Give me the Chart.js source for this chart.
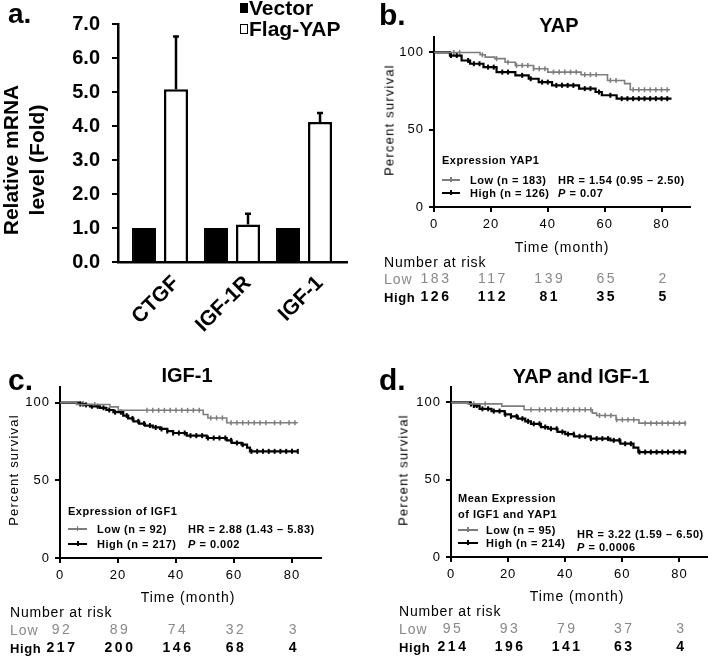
<!DOCTYPE html>
<html>
<head>
<meta charset="utf-8">
<script src="https://cdn.jsdelivr.net/npm/chart.js@4.4.0/dist/chart.umd.min.js"></script>
<style>
  html, body { margin: 0; padding: 0; background: #fff; }
  body { width: 708px; height: 656px; position: relative; overflow: hidden; font-family: "Liberation Sans", Arial, sans-serif; }
  canvas { position: absolute; }
  .t { position: absolute; white-space: nowrap; line-height: 1; color: #000; }
  .sw { position: absolute; }
</style>
</head>
<body>
<canvas id="barA" width="354" height="360" style="left:0;top:0"></canvas>
<canvas id="kmB" width="354" height="310" style="left:354px;top:0"></canvas>
<canvas id="kmC" width="354" height="316" style="left:0;top:340px"></canvas>
<canvas id="kmD" width="360" height="316" style="left:354px;top:340px"></canvas>
<script>
const FONT = '"Liberation Sans", Arial, sans-serif';
const GRAY = '#7d7d7d';

// a. qPCR fold change
const genes = ["CTGF", "IGF-1R", "IGF-1"];
const groups = ["Vector", "Flag-YAP"];
const vectorFold = [1, 1, 1];
const yapFold = [5.08, 1.1, 4.12];
const yapErr = [1.55, 0.32, 0.26];

// survival axes / numbers at risk columns
const months = [0, 20, 40, 60, 80];
const survTicks = [0, 50, 100];

// b. YAP
const yapLowT = [0, 16.2, 18, 21.4, 25, 28.6, 35, 40, 51.7, 61, 67, 69, 83];
const yapLowS = [100, 98.5, 97, 96, 93.7, 91.6, 89.5, 87.3, 85.6, 81.9, 79.8, 75.9, 75.9];
const yapHighT = [0, 5.6, 9.7, 12.7, 17.4, 22, 28.6, 33.3, 36.8, 41.5, 51, 56.8, 59, 64.2, 83.5];
const yapHighS = [100, 98, 94.8, 92.7, 90.5, 87.3, 85.2, 83, 80.8, 78.7, 76.6, 74.4, 72.3, 70.1, 70.1];
const yapLowCens = [7, 9, 17, 22, 26, 29, 31, 33, 35, 37, 39, 42, 44, 46, 48, 50, 53, 55, 57, 62, 64, 70, 72, 74, 76, 78, 80, 82];
const yapHighCens = [6, 8, 12, 14, 16, 19, 21, 24, 26, 31, 34, 38, 40, 43, 45, 47, 49, 53, 55, 58, 62, 66, 68, 70, 72, 74, 76, 78, 80, 82];
const yapRiskLow = [183, 117, 139, 65, 2];
const yapRiskHigh = [126, 112, 81, 35, 5];

// c. IGF-1
const igfLowT = [0, 5.7, 17.2, 20.1, 49.4, 51, 57.5, 82];
const igfLowS = [100, 98.7, 97.2, 95, 92.3, 90.1, 87, 87];
const igfHighT = [0, 7, 8.5, 10.3, 13.8, 16, 18.4, 21.8, 23.5, 25.3, 27.3, 29.3, 32, 34.5, 37, 39, 43.7, 50.6, 57.5, 59.2, 62.6, 64.5, 65.5, 82];
const igfHighS = [100, 99, 98.5, 97.6, 96.6, 95.2, 93.8, 91.6, 89.8, 87.9, 86.5, 85.2, 84, 83, 81.6, 80.4, 78.7, 77.2, 75.7, 74, 72.9, 71, 68.6, 68.6];
const igfLowCens = [8, 12, 30, 32, 34, 36, 38, 40, 42, 44, 46, 48, 52, 54, 56, 59, 61, 63, 65, 67, 69, 71, 74, 76, 79, 81];
const igfHighCens = [7, 8, 9, 11, 13, 15, 17, 19, 21, 23, 25, 27, 29, 31, 33, 35, 37, 39, 41, 43, 45, 47, 49, 51, 53, 55, 57, 59, 61, 63, 66, 68, 70, 72, 74, 76, 78, 80, 82];
const igfRiskLow = [92, 89, 74, 32, 3];
const igfRiskHigh = [217, 200, 146, 68, 4];

// d. YAP and IGF-1
const bothLowT = [0, 6, 17.8, 25.6, 49.5, 51, 57.8, 65.8, 82.4];
const bothLowS = [100, 99.1, 97.6, 95.3, 93.1, 91.6, 88.8, 86.6, 86.6];
const bothHighT = [0, 6.5, 8, 10, 14.2, 18.8, 21, 23.4, 26, 28, 31.5, 34, 37.3, 40, 43.1, 48.9, 55.8, 59.3, 63.9, 65.6, 82.4];
const bothHighS = [100, 99, 98, 95.9, 94.4, 92.3, 91, 89.5, 87.8, 86.2, 84.1, 83, 80.9, 79.5, 78.1, 76.6, 75.5, 73.3, 70.8, 67.9, 67.9];
const bothLowCens = [8, 12, 28, 31, 33, 35, 37, 39, 41, 43, 45, 47, 49, 52, 54, 56, 58, 60, 62, 64, 68, 70, 72, 74, 76, 78, 80, 82];
const bothHighCens = [7, 8, 9, 11, 13, 15, 17, 19, 21, 23, 25, 27, 29, 31, 33, 35, 37, 39, 41, 43, 45, 47, 49, 51, 53, 55, 57, 59, 61, 63, 66, 68, 70, 72, 74, 76, 78, 80, 82];
const bothRiskLow = [95, 93, 79, 37, 3];
const bothRiskHigh = [214, 196, 141, 63, 4];

// ---- text helpers
function txt(html, x, y, css, mode) {
  const d = document.createElement("div");
  d.className = "t";
  d.innerHTML = html;
  d.style.cssText += css;
  d.style.left = x + "px";
  d.style.top = y + "px";
  if (mode === "c") d.style.transform = "translate(-50%, -50%)";
  else if (mode === "r") d.style.transform = "translate(-50%, -50%) rotate(-90deg)";
  else d.style.transform = "translate(0, -50%)";
  document.body.appendChild(d);
  return d;
}
function swatch(x, y, w, color, width) {
  const d = document.createElement("div");
  d.className = "sw";
  d.style.cssText = `left:${x}px;top:${y - width / 2}px;width:${w}px;height:${width}px;background:${color}`;
  document.body.appendChild(d);
  const tk = document.createElement("div");
  tk.className = "sw";
  tk.style.cssText = `left:${x + w / 2 - 1}px;top:${y - 3}px;width:${width}px;height:5px;background:${color}`;
  document.body.appendChild(tk);
}

// ---- panel a
const errorBars = {
  id: "errorBars",
  afterDatasetsDraw(chart) {
    const ctx = chart.ctx, ys = chart.scales.y;
    const meta = chart.getDatasetMeta(1);
    ctx.save();
    ctx.strokeStyle = "#000";
    ctx.lineWidth = 2.5;
    meta.data.forEach((bar, i) => {
      const top = ys.getPixelForValue(yapFold[i] + yapErr[i]);
      ctx.beginPath();
      ctx.moveTo(bar.x, bar.y);
      ctx.lineTo(bar.x, top);
      ctx.moveTo(bar.x - 3, top);
      ctx.lineTo(bar.x + 3, top);
      ctx.stroke();
    });
    ctx.restore();
  }
};

const geneIdx = genes.map((g, i) => i);

new Chart(document.getElementById("barA"), {
  type: "bar",
  data: {
    datasets: [
      { label: groups[0], data: geneIdx.map(i => ({ x: i, y: vectorFold[i] })),
        backgroundColor: "#000", borderColor: "#000", borderWidth: 2,
        categoryPercentage: 0.89, barPercentage: 0.75 },
      { label: groups[1], data: geneIdx.map(i => ({ x: i, y: yapFold[i] })),
        backgroundColor: "#fff", borderColor: "#000", borderWidth: 2.5,
        categoryPercentage: 0.89, barPercentage: 0.75 }
    ]
  },
  options: {
    responsive: false, animation: false, devicePixelRatio: 1, events: [],
    layout: { padding: { left: 0, top: 20, right: 7, bottom: 13 } },
    plugins: { legend: { display: false }, tooltip: { enabled: false } },
    scales: {
      x: {
        type: "linear", offset: false, min: -0.583, max: 2.597,
        afterBuildTicks: s => { s.ticks = geneIdx.map(v => ({ value: v })); },
        afterFit: s => { s.height = 85; },
        grid: { display: false },
        border: { color: "#000", width: 2.5 },
        ticks: { color: "#000", font: { family: FONT, size: 21, weight: "bold" }, minRotation: 45, maxRotation: 45,
                 autoSkip: false, labelOffset: 16, padding: 1, callback: v => genes[v] }
      },
      y: {
        min: 0, max: 7,
        afterFit: s => { s.width = 118; },
        grid: { drawOnChartArea: false, color: "#000", lineWidth: 2, tickLength: 6 },
        border: { color: "#000", width: 2.5 },
        ticks: { stepSize: 1, color: "#000", font: { family: FONT, size: 20, weight: "bold" }, padding: 12,
                 callback: v => v.toFixed(1) }
      }
    }
  },
  plugins: [errorBars]
});

txt("a.", 8, 14, `font: bold 28px ${FONT}`, "l");
txt("Relative mRNA<br>level (Fold)", 24, 160, `font: bold 21px ${FONT}; line-height: 26px; text-align: center`, "r");
groups.forEach((g, i) => {
  const y = [8, 29][i];
  const b = document.createElement("div");
  b.className = "sw";
  b.style.cssText = `left:240px;top:${y - 5}px;width:8px;height:10px;box-sizing:border-box;border:1.5px solid #000;background:${i ? "#fff" : "#000"}`;
  document.body.appendChild(b);
  txt(g, 249, y, `font: bold 21px ${FONT}`, "l");
});

// ---- survival panels
function stepAt(T, S, t) {
  let v = S[0];
  for (let i = 0; i < T.length; i++) if (T[i] <= t) v = S[i];
  return v;
}

const riskPlugin = {
  id: "risk",
  beforeDraw(chart) { chart.ctx.letterSpacing = "1px"; },
  afterDraw(chart, args, opts) {
    const ctx = chart.ctx, xs = chart.scales.x;
    ctx.save();
    ctx.letterSpacing = "2.5px";
    ctx.textAlign = "center";
    ctx.textBaseline = "middle";
    months.forEach((m, i) => {
      const x = xs.getPixelForValue(m) + 2;
      ctx.font = `14px ${FONT}`;
      ctx.fillStyle = "#888";
      ctx.fillText(String(opts.low[i]), x, opts.yLow);
      ctx.font = `bold 14px ${FONT}`;
      ctx.fillStyle = "#000";
      ctx.fillText(String(opts.high[i]), x, opts.yHigh);
    });
    ctx.restore();
  }
};

function kmChart(id, c) {
  const pts = (T, S) => T.map((t, i) => ({ x: t, y: S[i] }));
  const cens = (T, S, C) => C.map(t => ({ x: t, y: stepAt(T, S, t) }));
  return new Chart(document.getElementById(id), {
    type: "line",
    data: {
      datasets: [
        { data: pts(c.lowT, c.lowS), stepped: true, borderColor: GRAY, borderWidth: 1.6, pointRadius: 0 },
        { data: pts(c.highT, c.highS), stepped: true, borderColor: "#000", borderWidth: 2.2, pointRadius: 0 },
        { data: cens(c.lowT, c.lowS, c.lowC), showLine: false, pointStyle: "line", rotation: 90, pointRadius: 2.5,
          pointBorderColor: GRAY, borderColor: GRAY, pointBorderWidth: 1.5 },
        { data: cens(c.highT, c.highS, c.highC), showLine: false, pointStyle: "line", rotation: 90, pointRadius: 2.5,
          pointBorderColor: "#000", borderColor: "#000", pointBorderWidth: 2 }
      ]
    },
    options: {
      responsive: false, animation: false, devicePixelRatio: 1, events: [],
      layout: { padding: { left: 0, top: c.top, right: c.right, bottom: c.bottom } },
      plugins: { legend: { display: false }, tooltip: { enabled: false },
                 risk: { low: c.riskLow, high: c.riskHigh, yLow: c.yLow, yHigh: c.yHigh } },
      scales: {
        x: {
          type: "linear", min: 0, max: 90,
          afterBuildTicks: s => { s.ticks = months.map(v => ({ value: v })); },
          afterFit: s => { s.height = 40; },
          grid: { drawOnChartArea: false, color: "#000", lineWidth: 2, tickLength: 5 },
          border: { color: "#000", width: 2 },
          ticks: { color: "#000", font: { family: FONT, size: 13 }, padding: 5, maxRotation: 0 }
        },
        y: {
          min: 0, max: 110,
          afterBuildTicks: s => { s.ticks = survTicks.map(v => ({ value: v })); },
          afterFit: s => { s.width = c.yw; },
          grid: { drawOnChartArea: false, color: "#000", lineWidth: 2, tickLength: 5 },
          border: { color: "#000", width: 2 },
          ticks: { color: "#000", font: { family: FONT, size: 13 }, padding: 5 }
        }
      }
    },
    plugins: [riskPlugin]
  });
}

kmChart("kmB", { lowT: yapLowT, lowS: yapLowS, highT: yapHighT, highS: yapHighS, lowC: yapLowCens, highC: yapHighCens,
  riskLow: yapRiskLow, riskHigh: yapRiskHigh, yw: 80, top: 37, right: 18, bottom: 63, yLow: 279, yHigh: 297 });
kmChart("kmC", { lowT: igfLowT, lowS: igfLowS, highT: igfHighT, highS: igfHighS, lowC: igfLowCens, highC: igfHighCens,
  riskLow: igfRiskLow, riskHigh: igfRiskHigh, yw: 60, top: 47, right: 33, bottom: 58, yLow: 290, yHigh: 308 });
kmChart("kmD", { lowT: bothLowT, lowS: bothLowS, highT: bothHighT, highS: bothHighS, lowC: bothLowCens, highC: bothHighCens,
  riskLow: bothRiskLow, riskHigh: bothRiskHigh, yw: 97, top: 47, right: 4, bottom: 59, yLow: 289, yHigh: 307 });

const F_LET = `font: bold 30px ${FONT}`;
const F_TTL = `font: bold 20px ${FONT}`;
const F_AX = `font: 13px ${FONT}; letter-spacing: 1.2px`;
const F_TM = `font: 14px ${FONT}; letter-spacing: 1px`;
const F_LG = `font: bold 11px ${FONT}; letter-spacing: 0.5px`;
const F_NR = `font: 14px ${FONT}; letter-spacing: 0.8px`;
const F_LOW = `font: 14px ${FONT}; letter-spacing: 1px; color: #888`;
const F_HIGH = `font: bold 13px ${FONT}; letter-spacing: 0.6px`;

// b
txt("b.", 379, 15, F_LET, "l");
txt("YAP", 559, 25, F_TTL, "c");
txt("Percent survival", 389, 120, F_AX, "r");
txt("Time (month)", 562, 247, F_TM, "c");
txt("Expression YAP1", 442, 160, F_LG, "l");
swatch(442, 180, 18, GRAY, 1.5);
swatch(442, 193, 18, "#000", 2);
txt("Low (n = 183)", 470, 180, F_LG, "l");
txt("HR = 1.54 (0.95 – 2.50)", 558, 180, F_LG, "l");
txt("High (n = 126)", 470, 193, F_LG, "l");
txt("<i>P</i> = 0.07", 558, 193, F_LG, "l");
txt("Number at risk", 384, 262, F_NR, "l");
txt("Low", 384, 279, F_LOW, "l");
txt("High", 384, 297, F_HIGH, "l");

// c
txt("c.", 8, 380, F_LET, "l");
txt("IGF-1", 187, 375, F_TTL, "c");
txt("Percent survival", 13, 470, F_AX, "r");
txt("Time (month)", 188, 597, F_TM, "c");
txt("Expression of IGF1", 68, 511, F_LG, "l");
swatch(68, 529, 19, GRAY, 1.5);
swatch(68, 544, 19, "#000", 2);
txt("Low (n = 92)", 97, 529, F_LG, "l");
txt("HR = 2.88 (1.43 – 5.83)", 188, 529, F_LG, "l");
txt("High (n = 217)", 97, 544, F_LG, "l");
txt("<i>P</i> = 0.002", 188, 544, F_LG, "l");
txt("Number at risk", 10, 612, F_NR, "l");
txt("Low", 10, 630, F_LOW, "l");
txt("High", 10, 648, F_HIGH, "l");

// d
txt("d.", 379, 380, F_LET, "l");
txt("YAP and IGF-1", 581, 376, F_TTL, "c");
txt("Percent survival", 403, 470, F_AX, "r");
txt("Time (month)", 577, 596, F_TM, "c");
txt("Mean Expression", 458, 498, F_LG, "l");
txt("of IGF1 and YAP1", 458, 514, F_LG, "l");
swatch(458, 530, 20, GRAY, 1.5);
swatch(458, 543, 20, "#000", 2);
txt("Low (n = 95)", 486, 530, F_LG, "l");
txt("High (n = 214)", 486, 543, F_LG, "l");
txt("HR = 3.22 (1.59 – 6.50)", 577, 534, F_LG, "l");
txt("<i>P</i> = 0.0006", 577, 547, F_LG, "l");
txt("Number at risk", 399, 611, F_NR, "l");
txt("Low", 399, 629, F_LOW, "l");
txt("High", 399, 647, F_HIGH, "l");
</script>
</body>
</html>
